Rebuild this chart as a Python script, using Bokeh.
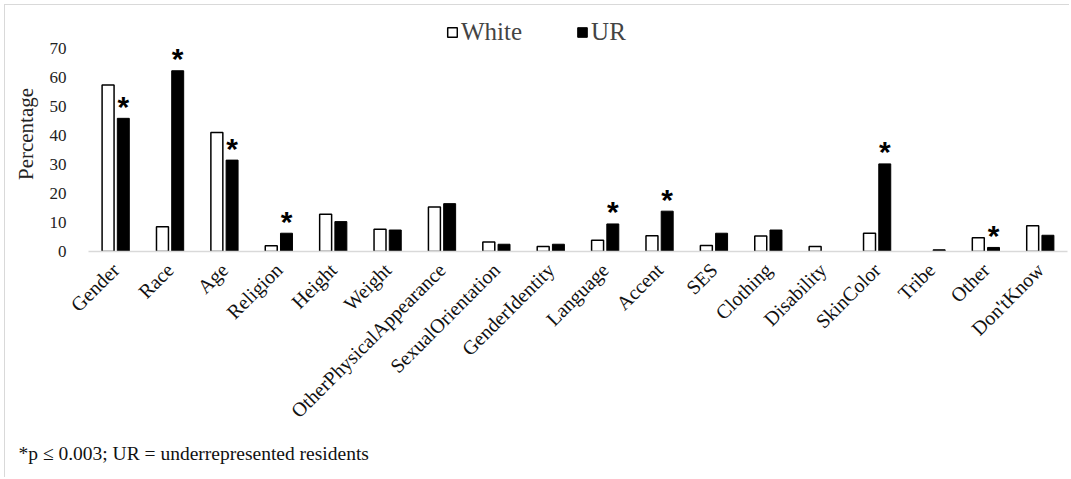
from math import pi
from bokeh.plotting import figure
from bokeh.models import ColumnDataSource, FactorRange, Range1d, FixedTicker, Title, Legend, LegendItem
from bokeh.transform import dodge
from bokeh.core.properties import value
from bokeh.embed import file_html
from bokeh.resources import INLINE

categories = ["Gender", "Race", "Age", "Religion", "Height", "Weight",
              "OtherPhysicalAppearance", "SexualOrientation", "GenderIdentity",
              "Language", "Accent", "SES", "Clothing", "Disability", "SkinColor",
              "Tribe", "Other", "Don'tKnow"]
white = [57.4, 8.5, 41.0, 2.0, 12.8, 7.7, 15.3, 3.3, 1.7, 3.9, 5.4, 2.1, 5.3, 1.7, 6.3, 0.0, 4.7, 8.9]
ur = [45.9, 62.3, 31.5, 6.3, 10.3, 7.4, 16.5, 2.5, 2.5, 9.5, 13.9, 6.3, 7.4, 0.0, 30.2, 0.6, 1.4, 5.6]
significant = [True, True, True, True, False, False, False, False, False,
               True, True, False, False, False, True, False, True, False]
y_ticks = [0, 10, 20, 30, 40, 50, 60, 70]
footnote = "*p \u2264 0.003; UR = underrepresented residents"

SERIF = "Liberation Serif"

src = ColumnDataSource(dict(cat=categories, white=white, ur=ur,
                            wline=["black" if v > 0 else None for v in white],
                            uline=["black" if v > 0 else None for v in ur]))
sig_src = ColumnDataSource(dict(
    cat=[c for c, s in zip(categories, significant) if s],
    ur=[u for u, s in zip(ur, significant) if s],
    star=["*" for s in significant if s],
))

p = figure(x_range=FactorRange(factors=categories, range_padding=0),
           y_range=Range1d(0, 81),
           width=1065, height=473, output_backend="svg", toolbar_location=None,
           min_border_left=83, min_border_right=3, min_border_top=11, min_border_bottom=227)
p.x_range.range_padding = 0
p.outline_line_color = None
p.xgrid.grid_line_color = None
p.ygrid.grid_line_color = None
p.background_fill_color = "white"
p.border_fill_color = "white"
p.styles = {"margin-left": "4px", "margin-top": "4px",
            "border-left": "1px solid #d9d9d9", "border-top": "1px solid #d9d9d9"}

rw = p.vbar(x=dodge("cat", -0.14, range=p.x_range), top="white", width=0.22, source=src,
            fill_color="white", line_color="wline", line_width=1.5)
rb = p.vbar(x=dodge("cat", 0.14, range=p.x_range), top="ur", width=0.22, source=src,
            fill_color="black", line_color="uline", line_width=1.0)

p.text(x=dodge("cat", 0.14, range=p.x_range), y="ur", text="star", source=sig_src,
       text_font=value("Liberation Sans"), text_font_style="bold", text_font_size=value("30px"),
       text_align="center", text_baseline="middle", y_offset=-12, text_color="black")

# axes
p.yaxis.ticker = FixedTicker(ticks=y_ticks)
p.yaxis.axis_line_color = None
p.yaxis.major_tick_line_color = None
p.yaxis.minor_tick_line_color = None
p.yaxis.major_label_text_font = SERIF
p.yaxis.major_label_text_font_size = "17px"
p.yaxis.major_label_text_color = "#222222"
p.yaxis.major_label_standoff = 16
p.yaxis.axis_label = "Percentage"
p.yaxis.axis_label_text_font = SERIF
p.yaxis.axis_label_text_font_size = "21px"
p.yaxis.axis_label_text_font_style = "normal"
p.yaxis.axis_label_text_color = "#222222"
p.yaxis.axis_label_standoff = 9

p.xaxis.axis_line_color = "#d9d9d9"
p.xaxis.axis_line_width = 1.5
p.xaxis.major_tick_line_color = None
p.xaxis.minor_tick_line_color = None
p.xaxis.major_label_orientation = pi / 4
p.xaxis.major_label_text_font = SERIF
p.xaxis.major_label_text_font_size = "20px"
p.xaxis.major_label_text_color = "#111111"
p.xaxis.major_label_standoff = 9

legend = Legend(items=[LegendItem(label="White", renderers=[rw]),
                       LegendItem(label="UR", renderers=[rb])],
                orientation="horizontal", location=(358, 205),
                label_text_font=SERIF, label_text_font_size="25px",
                glyph_width=12, glyph_height=12, spacing=54, padding=0, margin=0,
                label_standoff=3, border_line_color=None, background_fill_alpha=0)
p.add_layout(legend, "center")

p.add_layout(Title(text=footnote, align="left", offset=-70, standoff=17,
                   text_font=SERIF, text_font_size="19.5px", text_font_style="normal",
                   text_color="#111111"), "below")

open("out.html", "w").write(file_html(p, INLINE))
